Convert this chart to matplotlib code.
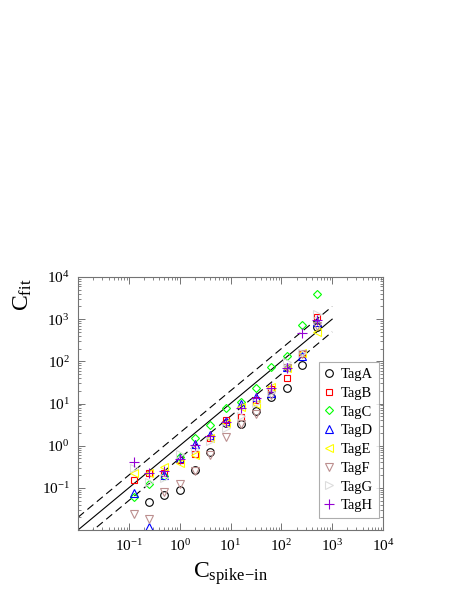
import numpy as np
import matplotlib
matplotlib.use('Agg')
import matplotlib.pyplot as plt
from matplotlib.ticker import LogLocator, NullFormatter

plt.rcParams['font.family'] = ['Liberation Serif', 'DejaVu Serif']
plt.rcParams['mathtext.fontset'] = 'custom'
plt.rcParams['mathtext.rm'] = 'Liberation Serif'
plt.rcParams['mathtext.it'] = 'Liberation Serif:italic'

# spike-in concentrations (x) and fitted values per tag (y)
spike_in = [0.125, 0.25, 0.5, 1, 2, 4, 8, 16, 32, 64, 128, 256, 512]
nan = np.nan
tag_a = [nan, 0.046, 0.068, 0.087, 0.27, 0.7, 3.4, 3.3, 6.7, 14.5, 23, 82, 640]
tag_b = [0.15, 0.22, 0.23, 0.45, 0.62, 1.5, 4.0, 4.8, 12, 22, 40, 150, 1150]
tag_c = [0.06, 0.12, 0.19, 0.55, 1.5, 3.1, 7.8, 11, 23, 72, 135, 720, 4000]
tag_d = [0.076, 0.012, 0.2, 0.5, 1.1, 1.8, 3.8, 9.5, 14, 18, 75, 135, 870]
tag_e = [0.22, 0.22, 0.31, 0.38, 0.6, 1.5, 3.5, 8.3, 9.6, 24, 70, 160, 500]
tag_f = [0.024, 0.018, 0.08, 0.12, 0.25, 0.6, 1.6, 3.2, 5.5, 16, 70, 150, 700]
tag_g = [0.3, 0.14, 0.17, 0.63, 0.85, 1.3, 2.6, 5.0, 10.5, 19, 95, 160, 1300]
tag_h = [0.42, 0.23, 0.25, 0.48, 1.05, 1.7, 3.6, 7.8, 13.5, 23, 70, 470, 950]

names = ['TagA', 'TagB', 'TagC', 'TagD', 'TagE', 'TagF', 'TagG', 'TagH']
series = [tag_a, tag_b, tag_c, tag_d, tag_e, tag_f, tag_g, tag_h]
markers = ['o', 's', 'D', '^', '<', 'v', '>', '+']
colors = ['black', '#ff0000', '#00ff00', '#0000ff', '#ffff00', '#bc8f8f', '#dcdcdc', '#9400d3']
sizes = [5.5, 4.5, 4.5, 5.5, 5.5, 5.5, 5.5, 7.5]

# reference lines y = x, y = 2x, y = x/2
line_x = np.array([0.01, 1000])

fig = plt.figure(figsize=(4.63, 5.99), dpi=100)
ax = fig.add_axes([78 / 463, 1 - 530 / 599, 305 / 463, 253 / 599])

ax.plot(line_x, line_x, color='black', lw=0.8)
ax.plot(line_x, 2 * line_x, color='black', lw=0.8, dashes=(7, 4))
ax.plot(line_x, 0.5 * line_x, color='black', lw=0.8, dashes=(7, 4))

for name, ys, m, c, s in zip(names, series, markers, colors, sizes):
    ax.plot(spike_in, ys, linestyle='none', marker=m, markersize=s,
            markerfacecolor='none', markeredgecolor=c, markeredgewidth=0.8,
            label=name)

ax.set_xscale('log')
ax.set_yscale('log')
ax.set_xlim(0.01, 1e4)
ax.set_ylim(0.01, 1e4)

for axis in (ax.xaxis, ax.yaxis):
    axis.set_major_locator(LogLocator(base=10, numticks=20))
    axis.set_minor_locator(LogLocator(base=10, subs=np.arange(2, 10), numticks=100))
    axis.set_minor_formatter(NullFormatter())

ax.tick_params(which='both', direction='in', top=True, right=True, color='0.45')
ax.tick_params(which='major', length=5, width=0.7, labelsize=11, pad=6)
ax.tick_params(which='minor', length=2.5, width=0.6)
for sp in ax.spines.values():
    sp.set_color('0.45')
    sp.set_linewidth(0.8)

# no labels at the 10^-2 corner
ax.set_xticks([0.1, 1, 10, 100, 1000, 10000])
ax.set_yticks([0.1, 1, 10, 100, 1000, 10000])

ax.set_xlabel(r'C$_{\rm spike\!-\!in}$', fontsize=17, labelpad=4)
ax.set_ylabel(r'C$_{\rm fit}$', fontsize=17)
ax.yaxis.set_label_coords(-0.145, 0.93)

leg = ax.legend(loc='lower right', bbox_to_anchor=(0.987, 0.047), fontsize=10.5,
                frameon=True, fancybox=False, borderaxespad=0, handlelength=0.6,
                handletextpad=0.5, labelspacing=0.38, borderpad=0.4)
leg.get_frame().set_edgecolor('0.6')
leg.get_frame().set_linewidth(0.8)

fig.savefig('out.png', dpi=100)
